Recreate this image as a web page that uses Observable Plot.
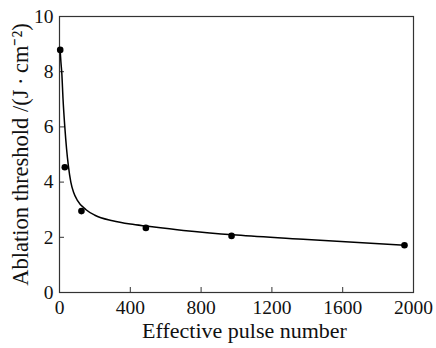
<!DOCTYPE html>
<html><head><meta charset="utf-8">
<script src="https://cdn.jsdelivr.net/npm/d3@7"></script>
<script src="https://cdn.jsdelivr.net/npm/@observablehq/plot@0.6"></script>
<style>body{margin:0;background:#fff}svg{display:block}</style>
</head><body><div id="chart"></div>
<script>
// measured points
const pulseNumbers = [4, 30, 124, 488, 972, 1949];
const thresholds = [8.79, 4.54, 2.95, 2.34, 2.05, 1.71];
// fitted curve
const fitN = [4, 8, 13, 20, 30, 40, 50, 64, 80, 100, 150, 200, 300, 400, 500, 700, 1000, 1400, 1950];
const fitF = [8.75, 8.35, 7.95, 7.0, 6.0, 5.2, 4.6, 4.0, 3.62, 3.35, 3.0, 2.8, 2.6, 2.48, 2.4, 2.25, 2.08, 1.92, 1.71];
const xTicks = [0, 400, 800, 1200, 1600, 2000];
const yTicks = [0, 2, 4, 6, 8, 10];
const xInnerTicks = [400, 800, 1200, 1600];
const yInnerTicks = [2, 4, 6, 8];

const points = pulseNumbers.map((n, i) => ({n, f: thresholds[i]}));
const fit = fitN.map((n, i) => ({n, f: fitF[i]}));
const FF = "Liberation Serif";

const chart = Plot.plot({
  width: 436,
  height: 348,
  marginLeft: 59,
  marginRight: 23,
  marginTop: 16,
  marginBottom: 56,
  style: {fontFamily: FF, fontSize: "19.5px", color: "#111", background: "#fff"},
  x: {domain: [0, 2000]},
  y: {domain: [0, 10]},
  marks: [
    Plot.axisX(xTicks, {tickSize: 0, tickPadding: 8, label: null, fontSize: 19.5, fontFamily: FF, tickFormat: d => String(d)}),
    Plot.axisX(xInnerTicks, {tickSize: -5, text: null, label: null, stroke: "#333"}),
    Plot.axisY(yTicks, {tickSize: 0, tickPadding: 6, label: null, fontSize: 19.5, fontFamily: FF, tickFormat: d => String(d)}),
    Plot.axisY(yInnerTicks, {tickSize: -5, text: null, label: null, stroke: "#333"}),
    Plot.frame({stroke: "#333", strokeWidth: 1.2}),
    Plot.line(fit, {x: "n", y: "f", curve: "monotone-x", stroke: "#000", strokeWidth: 1.5}),
    Plot.dot(points, {x: "n", y: "f", r: 3.3, fill: "#000", stroke: null}),
    Plot.text(["Effective pulse number"], {frameAnchor: "bottom", lineAnchor: "bottom", dy: 45, dx: 8, fontSize: 22, fontFamily: FF, fill: "#111"}),
    Plot.text(["Ablation threshold /(J\u2009·\u2009cm\u207b\u00b2)"], {frameAnchor: "left", textAnchor: "middle", dx: -39, rotate: -90, fontSize: 22.5, fontFamily: FF, fill: "#111"})
  ]
});
document.getElementById("chart").append(chart);
</script>
</body></html>
